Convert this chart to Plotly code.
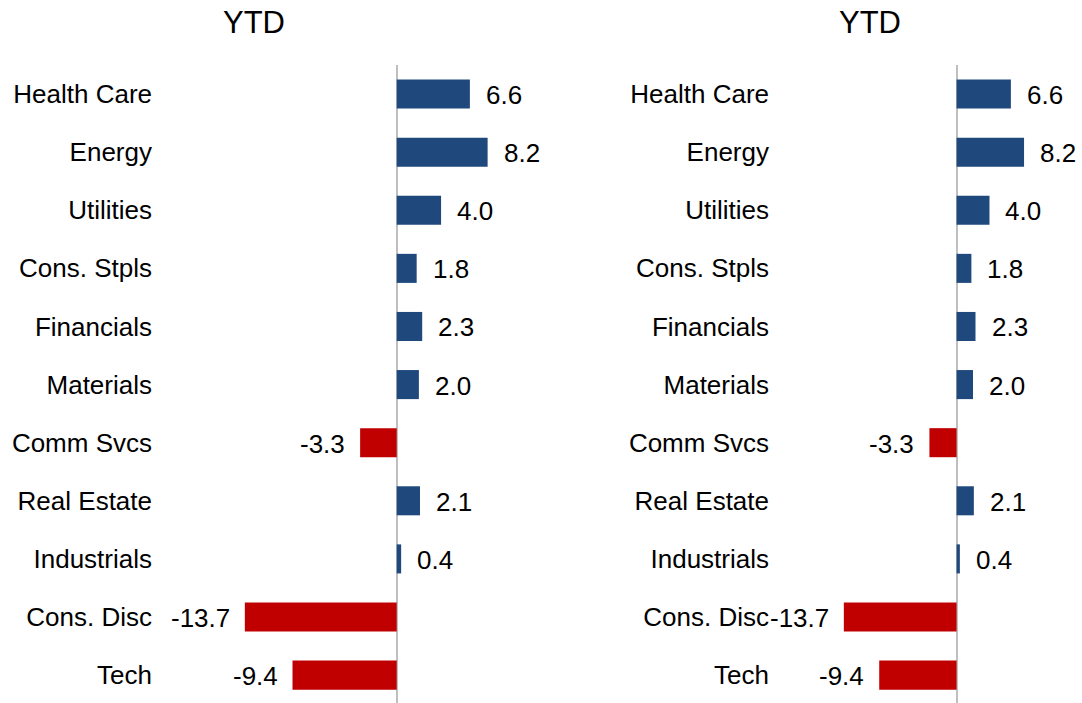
import plotly.graph_objects as go

# Sector year-to-date returns (%)
sectors = ["Health Care", "Energy", "Utilities", "Cons. Stpls", "Financials",
           "Materials", "Comm Svcs", "Real Estate", "Industrials", "Cons. Disc", "Tech"]
ytd = [6.6, 8.2, 4.0, 1.8, 2.3, 2.0, -3.3, 2.1, 0.4, -13.7, -9.4]

BLUE = "#1F497D"
RED = "#C00000"
FONT = "Liberation Sans, Arial, sans-serif"
W, H = 1082, 703

colors = [BLUE if v >= 0 else RED for v in ytd]

fig = go.Figure()
panels = [("x", "y", 175, 563, 254), ("x2", "y2", 792, 1080, 870)]

annotations = []
for xa, ya, left, right, title_x in panels:
    fig.add_trace(go.Bar(
        x=ytd, y=sectors, orientation="h", width=0.5,
        marker=dict(color=colors, line=dict(width=0)),
        xaxis=xa, yaxis=ya, showlegend=False, hoverinfo="x+y",
    ))
    for s, v in zip(sectors, ytd):
        annotations.append(dict(
            x=v, y=s, xref=xa, yref=ya, text=f"{v:.1f}", showarrow=False,
            xanchor="left" if v >= 0 else "right",
            xshift=14 if v >= 0 else -13,
            yshift=-1,
            font=dict(family=FONT, size=26, color="#000000"),
        ))
    annotations.append(dict(
        x=title_x / W, y=1 - 22 / H, xref="paper", yref="paper", text="YTD",
        showarrow=False, xanchor="center", yanchor="middle",
        font=dict(family=FONT, size=31, color="#000000"),
    ))

xaxis_common = dict(range=[-20, 15], showgrid=False, showticklabels=False,
                    zeroline=True, zerolinecolor="#BFBFBF", zerolinewidth=1.5,
                    showline=False, fixedrange=True)
yaxis_common = dict(type="category", range=[10.48, -0.5], showgrid=False,
                    zeroline=False, showline=False, ticks="",
                    ticklabelstandoff=22,
                    tickfont=dict(family=FONT, size=26, color="#000000"),
                    domain=[0, 1 - 65 / H], fixedrange=True)

fig.update_layout(
    width=W, height=H,
    margin=dict(l=0, r=0, t=0, b=0),
    paper_bgcolor="white", plot_bgcolor="white",
    bargap=0.5,
    xaxis=dict(domain=[175 / W, 563 / W], anchor="y", **xaxis_common),
    xaxis2=dict(domain=[792 / W, 1080 / W], anchor="y2", **xaxis_common),
    yaxis=dict(anchor="x", **yaxis_common),
    yaxis2=dict(anchor="x2", **yaxis_common),
    annotations=annotations,
    font=dict(family=FONT),
)

fig.write_html("out.html")
